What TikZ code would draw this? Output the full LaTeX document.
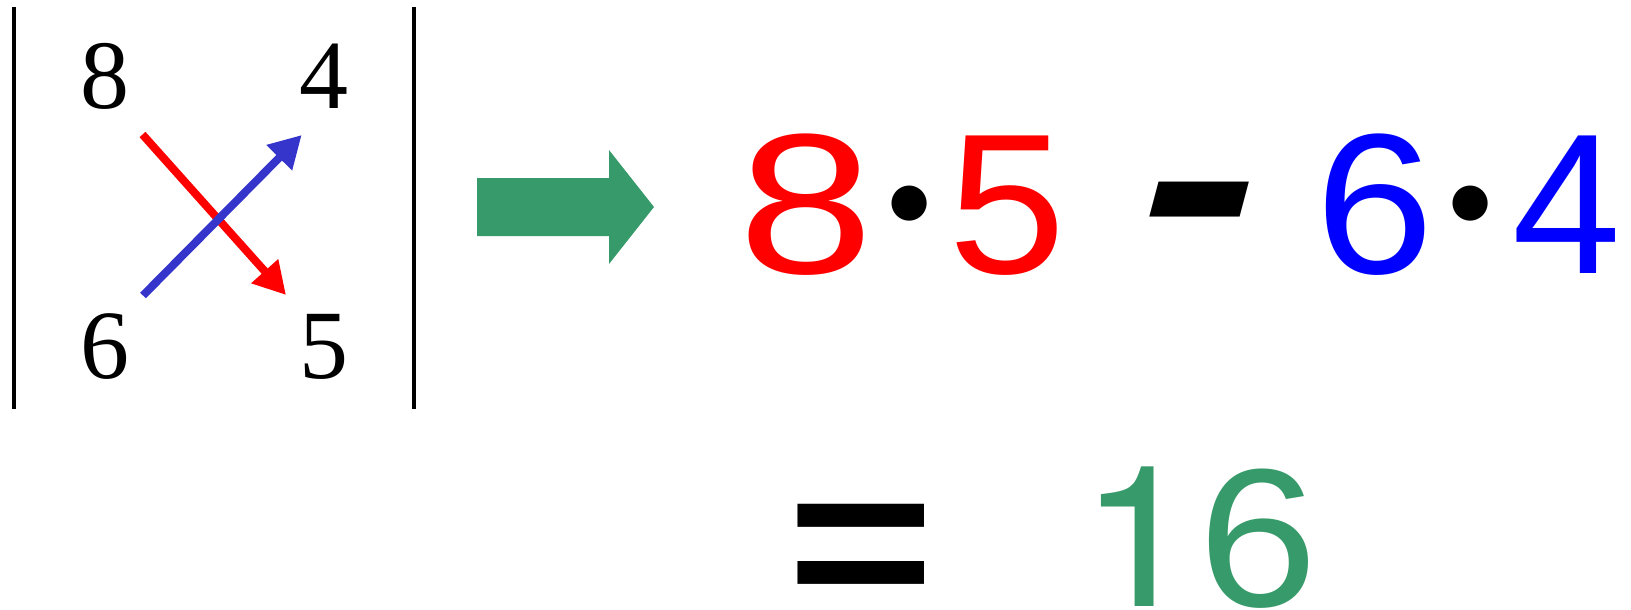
\documentclass[tikz,border=0pt]{standalone}
\usepackage{fontspec}
\usetikzlibrary{arrows.meta}
\newfontfamily\serifd{Liberation Serif}
\newfontfamily\sansd{Liberation Sans}
\newfontfamily\helvd{TeX Gyre Heros}
\newfontfamily\slantd[FakeSlant=0.32]{Liberation Sans}
\newfontfamily\symd{DejaVu Sans}
\definecolor{arrowgreen}{RGB}{55,154,106}
\definecolor{arrowblue}{RGB}{53,53,204}
\tikzset{
  digit/.style={inner sep=0pt, outer sep=0pt, anchor=base},
  matdigit/.style={digit, font=\serifd\fontsize{98}{98}\selectfont},
  bigdigit/.style={digit, font=\sansd\fontsize{200}{200}\selectfont},
  resdigit/.style={digit, font=\sansd\fontsize{197}{197}\selectfont},
  multdot/.style={inner sep=0pt, outer sep=0pt, anchor=center, font=\symd\fontsize{46}{46}\selectfont},
  minussign/.style={digit, font=\slantd\fontsize{370}{370}\selectfont},
  equalsign/.style={inner sep=0pt, outer sep=0pt, anchor=north, font=\sansd\bfseries\fontsize{212}{212}\selectfont},
  crossarrow/.style={line width=8pt, -{Triangle[length=32pt,width=34pt]}},
  detbar/.style={line width=4.5pt},
}
\begin{document}
\begin{tikzpicture}[x=1pt,y=-1pt]
\useasboundingbox (0,0) rectangle (1631,610);
% determinant bars
\draw[detbar] (14,7) -- (14,409);
\draw[detbar] (414,7) -- (414,409);
% matrix entries
\node[matdigit] (m8) at (105,109) {8};
\node[matdigit] (m4) at (323.5,109) {4};
\node[matdigit] (m6) at (104.5,378) {6};
\node[matdigit] (m5) at (324,378) {5};
% cross arrows
\coordinate (rs) at (142.5,134.5);
\coordinate (re) at (286,295);
\coordinate (bs) at (143,295.5);
\coordinate (be) at (301.7,135);
\draw[crossarrow, red] (rs) -- (re);
\draw[crossarrow, arrowblue] (bs) -- (be);
% green arrow
\fill[arrowgreen] (477,178) -- (609,178) -- (609,150) -- (654,207) -- (609,264) -- (609,236) -- (477,236) -- cycle;
% expression
\node[bigdigit, text=red] (e8) at (806.6,273) {\scalebox{1.217}[1]{8}};
\node[multdot] (d1) at (909.5,203.1) {●};
\node[bigdigit, text=red] (e5) at (1007,273) {\scalebox{1.057}[1]{5}};
\node[minussign] (mi) at (1167.7,318.4) {\scalebox{1}[1.21]{-}};
\node[bigdigit, text=blue] (e6) at (1374.5,273) {\scalebox{1.067}[1]{6}};
\node[multdot] (d2) at (1470.7,203.1) {●};
\node[bigdigit, text=blue] (e4) at (1566.5,273) {\scalebox{0.977}[1]{4}};
% result
\node[equalsign] (eq) at (861.5,504) {\scalebox{1.19}[1]{=}};
\node[resdigit, text=arrowgreen] (res) at (1198.5,606) {\scalebox{1.09}[1]{{\helvd 1}6}};
\end{tikzpicture}
\end{document}
